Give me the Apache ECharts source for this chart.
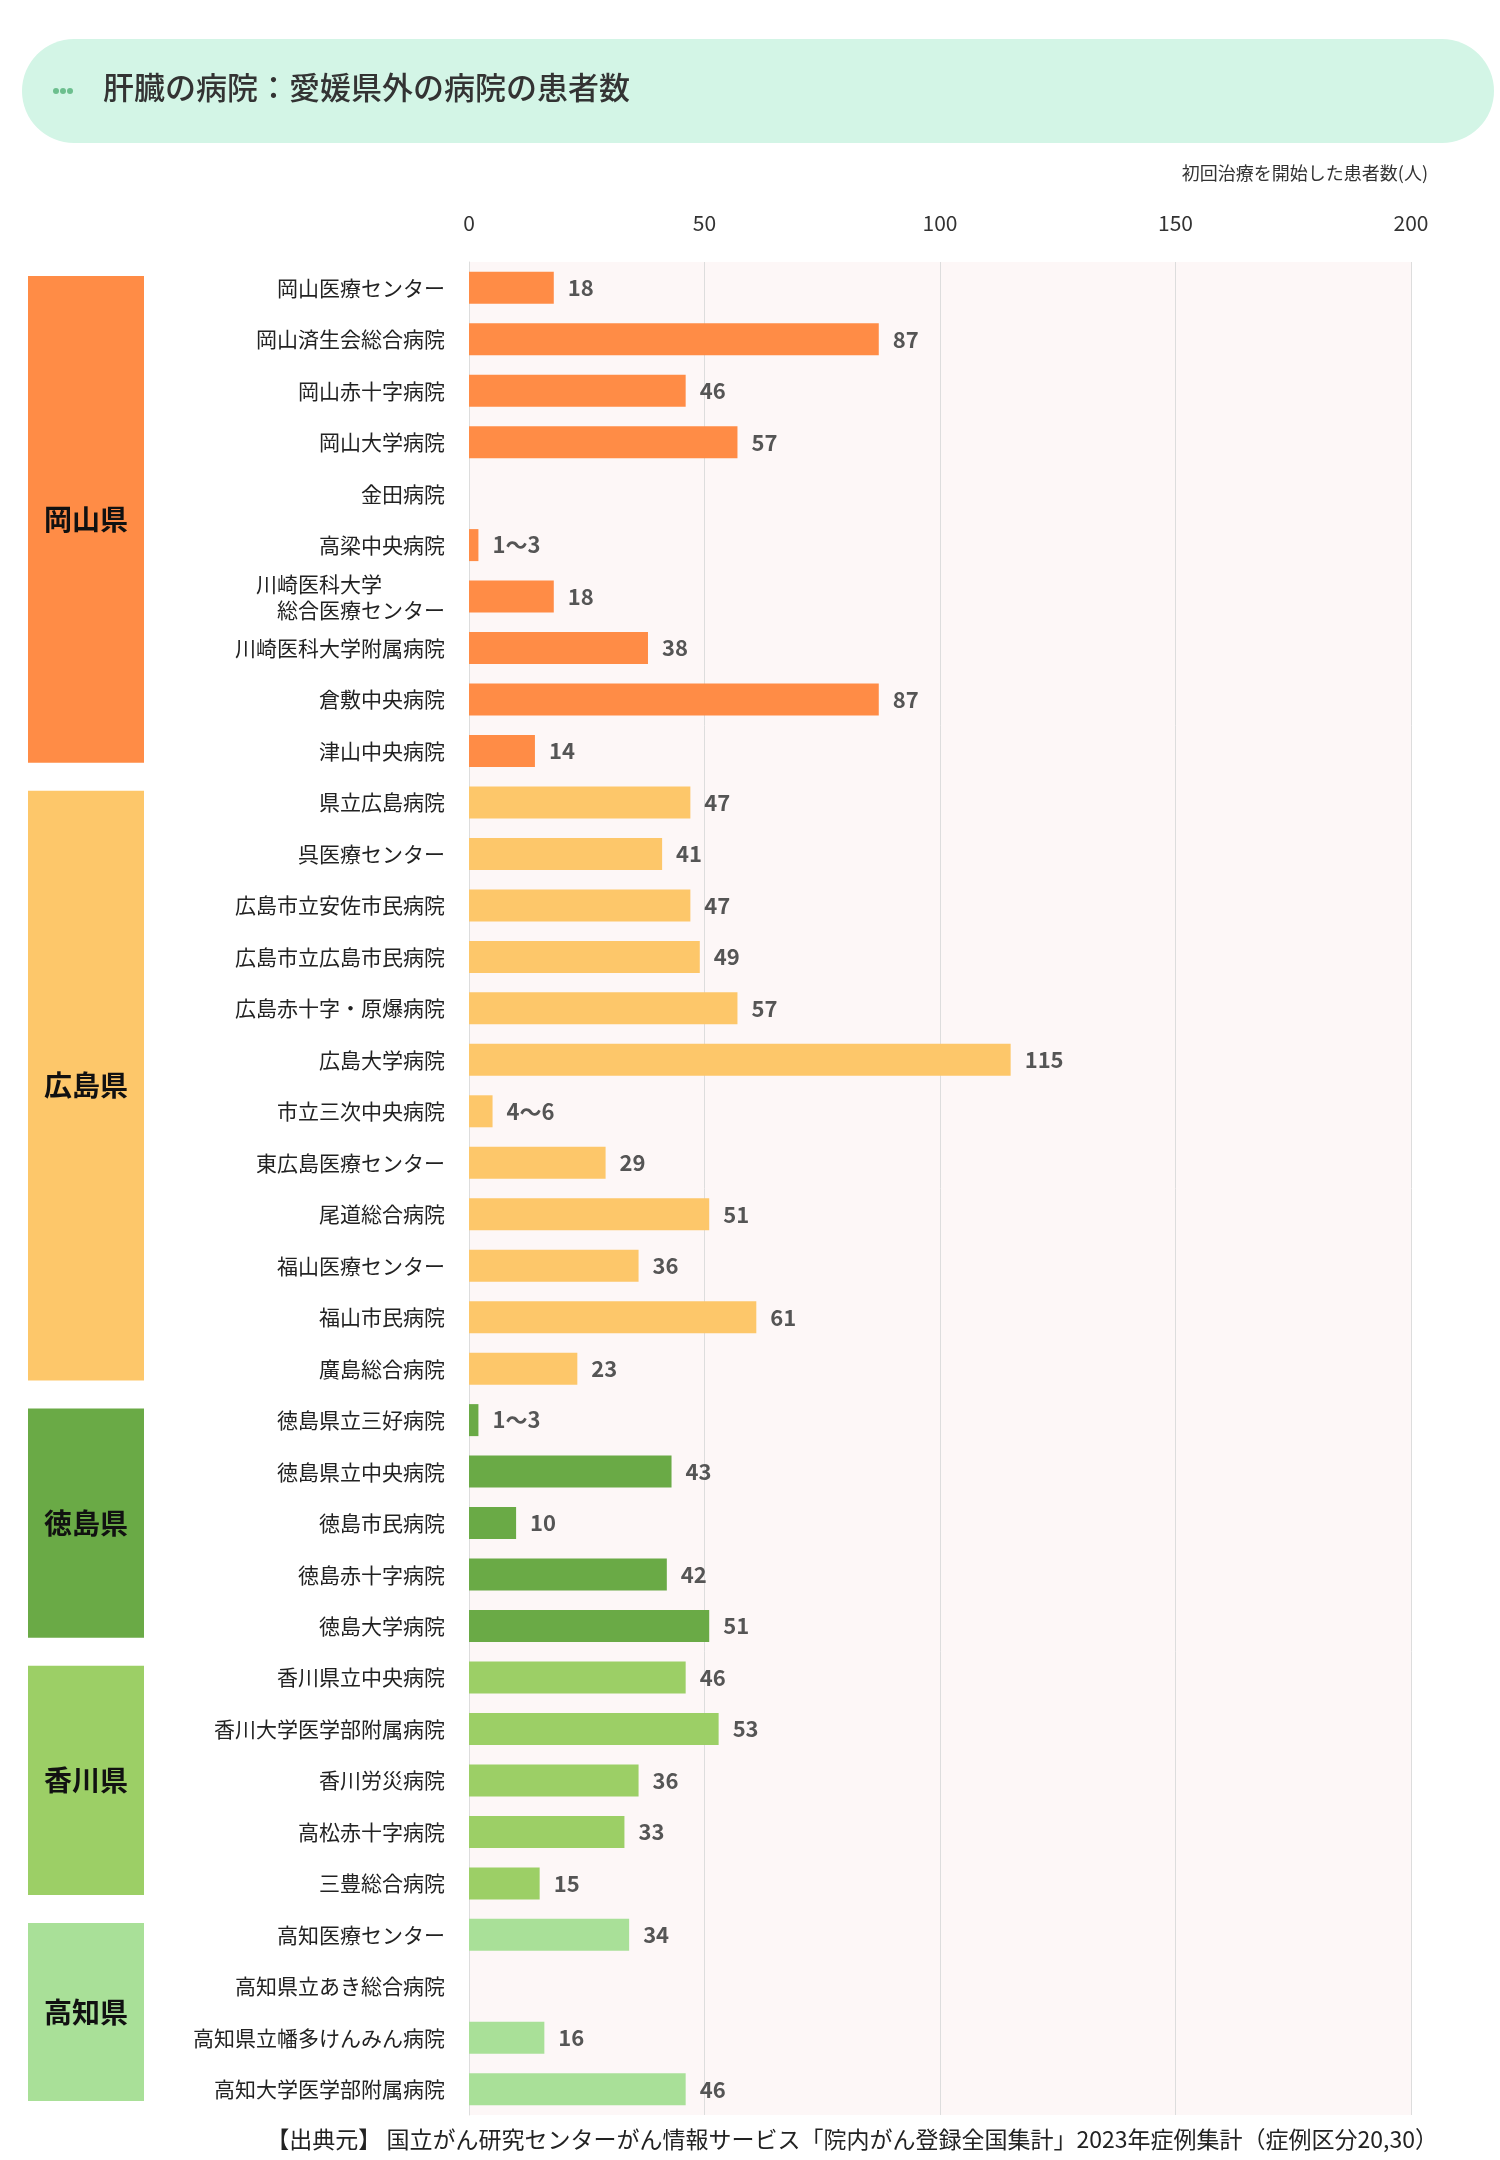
<!DOCTYPE html>
<html><head><meta charset="utf-8">
<script src="https://cdn.jsdelivr.net/npm/echarts@6/dist/echarts.min.js"></script>
<style>html,body{margin:0;padding:0;background:#fff}#c{width:1500px;height:2160px}</style>
</head><body><div id="c"></div>
<script>
const hospitals = ["岡山医療センター","岡山済生会総合病院","岡山赤十字病院","岡山大学病院","金田病院","高梁中央病院","川崎医科大学　　　\n総合医療センター","川崎医科大学附属病院","倉敷中央病院","津山中央病院",
"県立広島病院","呉医療センター","広島市立安佐市民病院","広島市立広島市民病院","広島赤十字・原爆病院","広島大学病院","市立三次中央病院","東広島医療センター","尾道総合病院","福山医療センター","福山市民病院","廣島総合病院",
"徳島県立三好病院","徳島県立中央病院","徳島市民病院","徳島赤十字病院","徳島大学病院",
"香川県立中央病院","香川大学医学部附属病院","香川労災病院","高松赤十字病院","三豊総合病院",
"高知医療センター","高知県立あき総合病院","高知県立幡多けんみん病院","高知大学医学部附属病院"];
const values = [18,87,46,57,null,2,18,38,87,14, 47,41,47,49,57,115,5,29,51,36,61,23, 2,43,10,42,51, 46,53,36,33,15, 34,null,16,46];
const valueLabels = ["18","87","46","57","","1～3","18","38","87","14","47","41","47","49","57","115","4～6","29","51","36","61","23","1～3","43","10","42","51","46","53","36","33","15","34","","16","46"];
const provinces = ["岡山県","広島県","徳島県","香川県","高知県"];
const provStart = [0,10,22,27,32];
const provEnd = [9,21,26,31,35];
const provColors = ["#ff8c46","#fdc76a","#6aaa46","#9ccf66","#a9e098"];
const xTicks = [0,50,100,150,200];

const rowProv = hospitals.map((h,i)=>provStart.findIndex((s,k)=>i>=s&&i<=provEnd[k]));
const chart = echarts.init(document.getElementById('c'));
chart.setOption({
  animation:false,
  textStyle:{fontFamily:'"Noto Sans CJK JP","Noto Sans",sans-serif'},
  graphic:[
    {type:'rect',shape:{x:22,y:39,width:1472,height:104,r:52},style:{fill:'#d3f5e6'}},
    {type:'circle',shape:{cx:56,cy:91,r:3},style:{fill:'#6cbf8e'}},
    {type:'circle',shape:{cx:63,cy:91,r:3},style:{fill:'#6cbf8e'}},
    {type:'circle',shape:{cx:70,cy:91,r:3},style:{fill:'#6cbf8e'}},
    {type:'text',left:103,top:72,style:{text:'肝臓の病院：愛媛県外の病院の患者数',font:'500 31px "Noto Sans CJK JP"',fill:'#333'}},
    {type:'text',right:72,top:164,style:{text:'初回治療を開始した患者数(人)',font:'18px "Noto Sans CJK JP"',fill:'#333'}},
    {type:'text',right:62,top:2128,style:{text:'【出典元】 国立がん研究センターがん情報サービス「院内がん登録全国集計」2023年症例集計（症例区分20,30）',font:'23px "Noto Sans CJK JP"',fill:'#222'}}
  ],
  grid:{left:469,right:89,top:262,height:1853,show:true,backgroundColor:'#fdf7f7',borderWidth:0},
  xAxis:{type:'value',position:'top',min:0,max:200,interval:50,
    axisLabel:{color:'#333',fontSize:21,margin:28,customValues:xTicks},
    splitLine:{lineStyle:{color:'#dddddd'}},axisLine:{show:false},axisTick:{show:false}},
  yAxis:{type:'category',inverse:true,data:hospitals,
    axisLine:{show:true,lineStyle:{color:'#dddddd'}},axisTick:{show:false},
    axisLabel:{color:'#222',fontSize:21,margin:24,lineHeight:26}},
  series:[
    {type:'bar',barWidth:32,
     data:values.map((v,i)=>({value:v,itemStyle:{color:provColors[rowProv[i]]}})),
     label:{show:true,position:'right',distance:14,color:'#555',fontSize:22,fontWeight:'bold',
       formatter:p=>valueLabels[p.dataIndex]}},
    {type:'custom',
     data:provinces.map((p,k)=>[provStart[k],provEnd[k],k]),
     encode:{y:0},
     renderItem:(params,api)=>{
       const k=api.value(2);
       const y0=api.coord([0,api.value(0)])[1];
       const y1=api.coord([0,api.value(1)])[1];
       const band=api.size([0,1])[1];
       const top=y0-band/2+14, h=(y1-y0)+band-28;
       return {type:'group',children:[
         {type:'rect',shape:{x:28,y:top,width:116,height:h},style:{fill:provColors[k]}},
         {type:'text',style:{text:provinces[k],x:86,y:top+h/2,align:'center',verticalAlign:'middle',
           font:'bold 28px "Noto Sans CJK JP"',fill:'#111'}}
       ]};
     }}
  ]
});
</script></body></html>
